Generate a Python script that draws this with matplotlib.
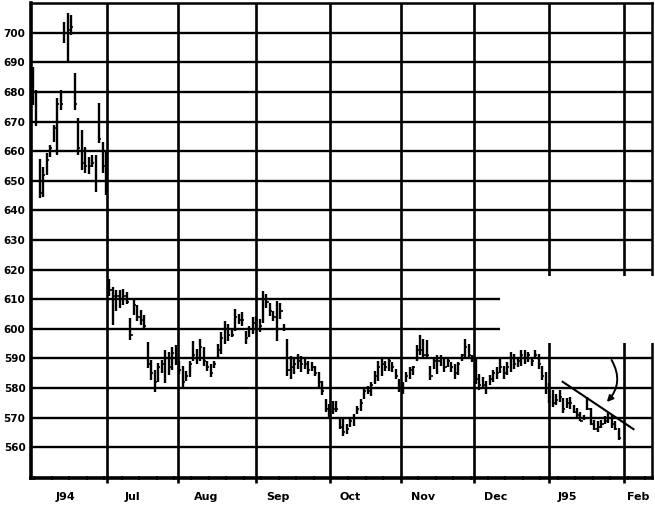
import matplotlib
matplotlib.use("Agg")
import matplotlib.pyplot as plt
import numpy as np
from matplotlib.patches import FancyArrowPatch, Rectangle

# ---- data (per month: high, low, close) ----
jun_high = [688.6, 680.7, 657.4, 654.8, 659.4, 662.0, 668.9, 677.9, 680.7, 703.8, 706.6, 706.0, 686.4, 671.2, 667.2, 661.6, 658.2, 658.8, 658.8, 676.2, 663.3, 660.0]
jun_low = [675.6, 668.6, 644.3, 644.7, 652.0, 658.2, 663.3, 658.8, 674.0, 696.5, 690.3, 699.3, 674.0, 658.8, 653.7, 652.6, 652.2, 654.8, 646.4, 662.7, 652.6, 645.3]
jun_close = [680, 670, 646, 652, 657, 661, 668, 676, 676, 700, 701, 702, 676, 661, 656, 655, 655, 656, 650, 664, 655, 648]

jul_high = [617.0, 614.3, 613.2, 613.0, 613.4, 612.4, 603.6, 609.8, 608.1, 606.4, 604.7, 595.4, 589.5, 586.1, 588.5, 589.5, 592.9, 592.3, 594.0, 594.6]
jul_low = [611.0, 601.4, 605.9, 607.0, 608.1, 608.5, 596.3, 604.7, 602.5, 601.4, 600.2, 586.7, 582.8, 578.8, 582.2, 585.1, 581.6, 584.5, 586.1, 587.8]
jul_close = [613, 611, 611, 610, 611, 609, 598, 608, 604, 603, 601, 588, 585, 582, 587, 588, 590, 587, 592, 590]

aug_high = [589.2, 587.5, 585.8, 589.2, 596.0, 593.2, 596.6, 593.7, 589.2, 588.1, 589.2, 594.9, 598.8, 602.8, 601.6, 599.9, 606.7, 605.0, 605.6, 599.4, 601.1, 603.9, 604.4]
aug_low = [584.7, 580.2, 582.5, 583.6, 589.2, 588.1, 589.2, 587.5, 585.8, 583.6, 586.9, 590.3, 591.5, 594.9, 596.0, 597.1, 599.4, 601.6, 601.1, 594.9, 597.1, 598.2, 599.9]
aug_close = [586, 582, 584, 588, 591, 590, 594, 589, 587, 585, 588, 593, 597, 600, 598, 598, 604, 603, 603, 597, 600, 602, 603]

sep_high = [603.3, 612.8, 611.7, 608.9, 606.1, 609.4, 608.9, 601.6, 596.5, 590.9, 590.3, 591.5, 590.9, 590.3, 589.2, 588.7, 587.5, 585.3, 582.5, 576.3, 574.6]
sep_low = [598.8, 602.1, 607.2, 604.4, 602.7, 596.0, 603.3, 599.3, 584.2, 583.0, 584.7, 586.4, 585.3, 586.4, 584.7, 585.8, 584.2, 580.2, 577.5, 571.8, 570.1]
sep_close = [601, 610, 609, 606, 604, 600, 606, 600, 586, 587, 588, 589, 588, 588, 586, 587, 585, 582, 579, 573, 572]

oct_high = [575.7, 575.5, 569.6, 570.1, 567.9, 569.6, 571.2, 574.0, 576.3, 580.2, 580.8, 581.9, 585.8, 589.2, 590.3, 589.2, 590.3, 588.7, 586.4, 583.0, 581.9]
oct_low = [571.2, 572.0, 566.2, 563.9, 564.5, 566.7, 567.3, 571.2, 572.4, 576.3, 578.0, 577.4, 581.3, 582.5, 584.2, 585.8, 585.8, 585.3, 583.0, 578.5, 578.0]
oct_close = [573, 573, 567, 565, 566, 569, 570, 573, 575, 579, 579, 581, 584, 587, 588, 587, 589, 587, 584, 580, 580]

nov_high = [585.4, 587.1, 587.6, 594.4, 597.8, 596.6, 596.1, 587.6, 589.9, 591.0, 591.0, 589.9, 590.4, 588.8, 588.2, 588.8, 591.6, 596.6, 594.9, 591.0, 589.9]
nov_low = [582.0, 583.1, 584.3, 589.3, 591.0, 589.9, 590.0, 582.6, 586.5, 584.8, 587.6, 585.4, 587.1, 585.4, 583.1, 584.5, 589.3, 590.4, 589.9, 588.8, 581.5]
nov_close = [584, 586, 587, 593, 593, 591, 591, 584, 589, 589, 590, 587, 589, 587, 585, 588, 591, 594, 591, 590, 583]

dec_high = [584.8, 583.7, 582.3, 584.3, 586.0, 587.1, 589.9, 587.6, 588.8, 592.1, 591.6, 589.9, 592.7, 592.7, 592.1, 590.4, 592.7, 591.6, 587.6, 585.5, 581.6]
dec_low = [579.5, 579.8, 578.1, 580.9, 582.0, 583.1, 585.0, 583.1, 584.3, 585.4, 586.5, 587.1, 587.6, 588.2, 588.8, 587.6, 590.4, 586.5, 582.6, 578.0, 575.0]
dec_close = [581, 581, 580, 583, 585, 585, 587, 585, 587, 590, 588, 589, 591, 590, 591, 589, 591, 588, 584, 580, 577]

jan_high = [579.3, 578.0, 579.3, 576.5, 576.5, 577.1, 574.3, 573.1, 572.0, 570.9, 577.1, 573.1, 569.2, 568.7, 569.2, 570.6, 571.5, 570.9, 568.7, 566.4]
jan_low = [573.7, 574.3, 575.4, 571.5, 573.1, 573.0, 571.5, 570.3, 568.7, 569.2, 572.6, 567.5, 565.8, 565.3, 566.4, 567.8, 568.1, 566.4, 565.8, 562.5]
jan_close = [575, 576, 577, 573, 575, 575, 572, 571, 569, 570, 573, 568, 566, 567, 568, 569, 570, 568, 566, 563]

month_lines = [21.3, 41.6, 64.0, 85.2, 105.6, 126.5, 148.0, 169.5]
month_label_pos = [9.25, 28.7, 49.7, 70.4, 91.0, 111.9, 132.6, 153.2, 173.5]
month_labels = ["J94", "Jul", "Aug", "Sep", "Oct", "Nov", "Dec", "J95", "Feb"]
price_ticks = [560, 570, 580, 590, 600, 610, 620, 630, 640, 650, 660, 670, 680, 690, 700]
trend_x = [151.9, 172.2]
trend_y = [582.1, 566.1]

high = np.array(jun_high + jul_high + aug_high + sep_high + oct_high + nov_high + dec_high + jan_high)
low = np.array(jun_low + jul_low + aug_low + sep_low + oct_low + nov_low + dec_low + jan_low)
close = np.array(jun_close + jul_close + aug_close + sep_close + oct_close + nov_close + dec_close + jan_close)
x = np.arange(len(high))

fig = plt.figure(figsize=(6.55, 5.16), dpi=100)
ax = fig.add_axes([31/655, 38/516, (652-31)/655, (478-3)/516])
ax.set_xlim(-0.5, 177.5)
ax.set_ylim(549.6, 710.1)

# grid
for p in price_ticks:
    ax.axhline(p, color="black", lw=1.7, zorder=1)
for m in month_lines:
    ax.vlines(m, 547.8, 710.1, color="black", lw=1.9, zorder=1, clip_on=False)

# white-out patch (blank area on the original)
ax.add_patch(Rectangle((134.0, 595.3), 50, 22.6, facecolor="white", edgecolor="none",
                       zorder=3, clip_on=False))

# bars
ax.vlines(x, low, high, color="black", lw=1.7, zorder=4)
ax.hlines(close, x, x + 0.6, color="black", lw=1.2, zorder=4)

# trend line and arrow
ax.plot(trend_x, trend_y, color="black", lw=1.5, zorder=5)
arr = FancyArrowPatch((165.5, 590.3), (164.0, 574.6), connectionstyle="arc3,rad=-0.4",
                      arrowstyle="-|>", mutation_scale=9, lw=1.4, color="black", zorder=5)
ax.add_patch(arr)

for s in ["left", "bottom"]:
    ax.spines[s].set_linewidth(2.6)
for s in ["top", "right"]:
    ax.spines[s].set_linewidth(1.8)

ax.set_yticks(price_ticks)
ax.set_yticklabels([str(p) for p in price_ticks], fontsize=7.5, fontweight="bold")
ax.tick_params(axis="y", length=0, pad=4)

ax.set_xticks(month_label_pos)
ax.set_xticklabels(month_labels, fontsize=8, fontweight="bold")
ax.tick_params(axis="x", which="major", length=0, pad=10)
ax.set_xticks(np.arange(0.5, 177, 5), minor=True)
ax.tick_params(axis="x", which="minor", length=3, width=1.2, direction="inout")

fig.savefig("out.png", dpi=100)
